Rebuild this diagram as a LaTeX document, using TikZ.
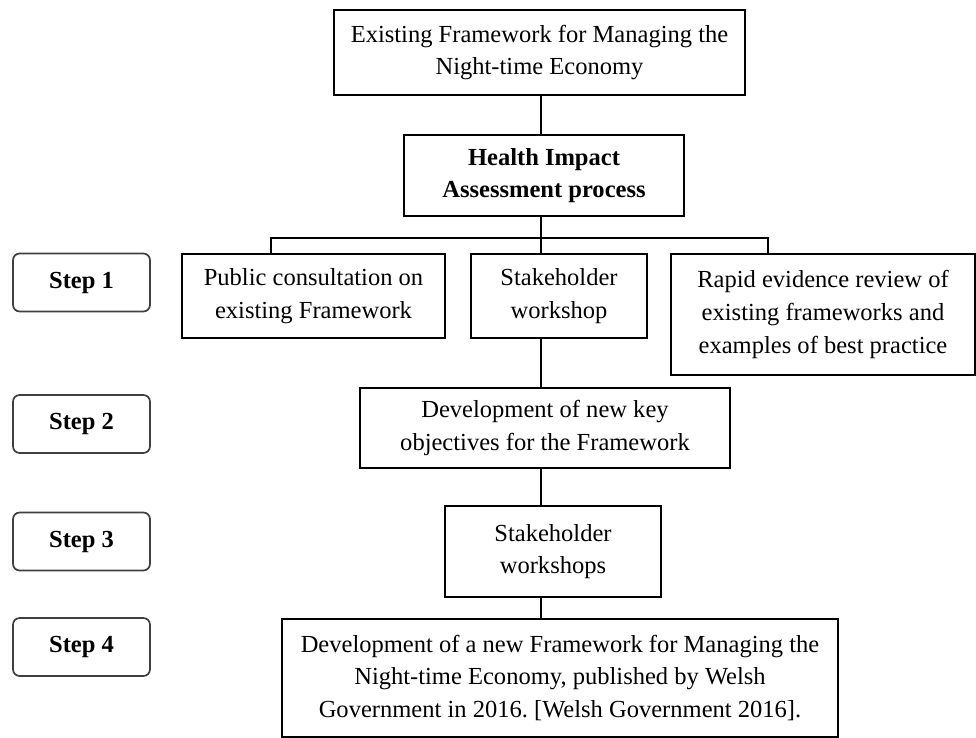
\documentclass[tikz,border=0pt]{standalone}
\usepackage{fontspec}
\setmainfont{Liberation Serif}
\usepackage{tikz}
\usetikzlibrary{positioning, calc}
\frenchspacing

\newdimen\px
\px=0.75pt

\tikzset{
  flowbox/.style={draw, line width=1.3pt, align=center, inner sep=0pt,
    font=\fontsize{18.4}{24.5}\selectfont},
  stepbox/.style={draw=black!75, line width=1.3pt, rounded corners=5pt, align=center,
    inner sep=0pt, minimum width=137\px, minimum height=58\px,
    font=\fontsize{18.4}{24.5}\selectfont\bfseries},
  link/.style={line width=1.3pt}
}

\begin{document}
\begin{tikzpicture}[x=0.75pt, y=-0.75pt]
  \useasboundingbox (0,0) rectangle (976,738);

  % Main column
  \node[flowbox, minimum width=411\px, minimum height=85\px] (existing) at (539.5, 52.5)
    {Existing Framework for Managing the\\Night-time Economy};
  \node[flowbox, minimum width=280\px, minimum height=81\px, font=\fontsize{18.4}{24.5}\selectfont\bfseries] (hia) at (544, 175.5)
    {Health Impact\\Assessment process};

  % Step 1 boxes
  \node[flowbox, minimum width=263\px, minimum height=84\px] (consult) at (313.5, 296)
    {Public consultation on\\existing Framework};
  \node[flowbox, minimum width=176\px, minimum height=84\px] (workshop) at (559, 296)
    {Stakeholder\\workshop};
  \node[flowbox, minimum width=304\px, minimum height=121\px] (review) at (823, 314.5)
    {Rapid evidence review of\\existing frameworks and\\examples of best practice};

  % Steps 2 to 4
  \node[flowbox, minimum width=370\px, minimum height=80\px] (objectives) at (545, 428)
    {Development of new key\\objectives for the Framework};
  \node[flowbox, minimum width=216\px, minimum height=91\px] (workshops) at (553, 551.5)
    {Stakeholder\\workshops};
  \node[flowbox, minimum width=556\px, minimum height=118\px] (newframe) at (560, 678)
    {Development of a new Framework for Managing the\\Night-time Economy, published by Welsh\\Government in 2016. [Welsh Government 2016].};

  % Step labels
  \node[stepbox] (step1) at (81.5, 282.5) {Step 1};
  \node[stepbox] (step2) at (81.5, 424) {Step 2};
  \node[stepbox] (step3) at (81.5, 541.5) {Step 3};
  \node[stepbox] (step4) at (81.5, 647) {Step 4};

  % Connectors
  \coordinate (busL) at (271, 238);
  \coordinate (busM) at (541, 238);
  \coordinate (busR) at (768, 238);
  \draw[link] (existing.south -| busM) -- (hia.north -| busM);
  \draw[link] (hia.south -| busM) -- (busM);
  \draw[link] (busL |- consult.north) -- (busL) -- (busR) -- (busR |- review.north);
  \draw[link] (busM) -- (busM |- workshop.north);
  \draw[link] (workshop.south -| busM) -- (objectives.north -| busM);
  \draw[link] (objectives.south -| busM) -- (workshops.north -| busM);
  \draw[link] (workshops.south -| busM) -- (newframe.north -| busM);
\end{tikzpicture}
\end{document}
